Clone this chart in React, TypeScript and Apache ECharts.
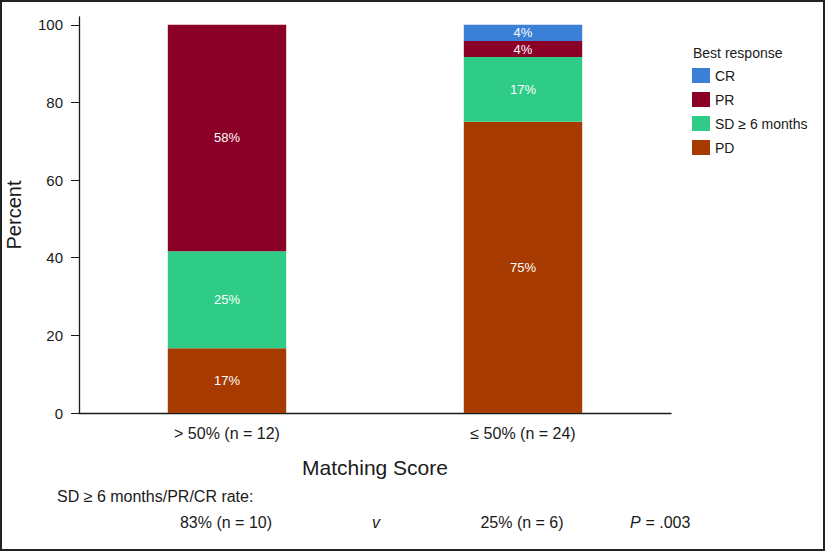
import React, { useEffect, useRef } from "react";
import * as echarts from "echarts";

const categories = ["> 50% (n = 12)", "≤ 50% (n = 24)"];
const pdValues = [16.67, 75.0];
const sdValues = [25.0, 16.67];
const prValues = [58.33, 4.17];
const crValues = [0, 4.16];
const yTicks = [0, 20, 40, 60, 80, 100];
const legendNames = ["CR", "PR", "SD ≥ 6 months", "PD"];
const rateLine = "SD ≥ 6 months/PR/CR rate:";
const rateLeft = "83% (n = 10)";
const rateRight = "25% (n = 6)";
const pValue = " = .003";

const FONT = "'Liberation Sans', Arial, sans-serif";
const COLORS: Record<string, string> = {
  CR: "#3a80d6",
  PR: "#8a0026",
  "SD ≥ 6 months": "#2ecc87",
  PD: "#a63a00",
};

export default function App() {
  const ref = useRef<HTMLDivElement>(null);
  useEffect(() => {
    if (!ref.current) return;
    const chart = echarts.init(ref.current, null, { renderer: "svg" });
    const mk = (name: string, data: number[]) => ({
      name,
      type: "bar",
      stack: "total",
      barWidth: "40%",
      data,
      itemStyle: { color: COLORS[name] },
      label: {
        show: true,
        position: "inside",
        color: "#ffffff",
        fontFamily: FONT,
        fontSize: 13,
        formatter: (p: any) => (p.value > 0 ? Math.round(p.value) + "%" : ""),
      },
    });
    chart.setOption({
      animation: false,
      backgroundColor: "#ffffff",
      grid: { left: 79, right: 154, top: 17, bottom: 138, outerBoundsMode: "none", containLabel: false },
      legend: {
        data: legendNames,
        orient: "vertical",
        left: 692,
        top: 68,
        padding: 0,
        itemWidth: 18,
        itemHeight: 15,
        itemGap: 9,
        icon: "rect",
        textStyle: { fontFamily: FONT, fontSize: 14, color: "#1a1a1a" },
        selectedMode: false,
      },
      xAxis: {
        type: "category",
        data: categories,
        axisLine: { lineStyle: { color: "#1a1a1a", width: 1.3 } },
        axisTick: { show: false },
        axisLabel: { fontFamily: FONT, fontSize: 16, color: "#1a1a1a", margin: 12 },
        name: "Matching Score",
        nameLocation: "middle",
        nameGap: 44,
        nameTextStyle: { fontFamily: FONT, fontSize: 21, color: "#1a1a1a" },
      },
      yAxis: {
        type: "value",
        min: 0,
        max: 102,
        splitLine: { show: false },
        axisLine: { show: true, lineStyle: { color: "#1a1a1a", width: 1.3 } },
        axisTick: { show: true, length: 8, customValues: yTicks, lineStyle: { color: "#1a1a1a" } },
        axisLabel: { fontFamily: FONT, fontSize: 15, color: "#1a1a1a", margin: 16, customValues: yTicks },
        name: "Percent",
        nameLocation: "middle",
        nameGap: 55,
        nameTextStyle: { fontFamily: FONT, fontSize: 20, color: "#1a1a1a" },
      },
      graphic: [
        {
          type: "rect",
          shape: { x: 1, y: 1, width: 823, height: 549 },
          style: { fill: "none", stroke: "#222", lineWidth: 2 },
          silent: true,
        },
        {
          type: "text",
          x: 693,
          y: 53,
          style: { text: "Best response", font: `14px ${FONT}`, fill: "#1a1a1a", verticalAlign: "middle" },
        },
        {
          type: "text",
          x: 57,
          y: 496,
          style: { text: rateLine, font: `16px ${FONT}`, fill: "#1a1a1a", verticalAlign: "middle" },
        },
        {
          type: "text",
          x: 226,
          y: 522,
          style: { text: rateLeft, font: `16px ${FONT}`, fill: "#1a1a1a", verticalAlign: "middle", align: "center" },
        },
        {
          type: "text",
          x: 376,
          y: 522,
          style: { text: "v", font: `italic 16px ${FONT}`, fill: "#1a1a1a", verticalAlign: "middle", align: "center" },
        },
        {
          type: "text",
          x: 522,
          y: 522,
          style: { text: rateRight, font: `16px ${FONT}`, fill: "#1a1a1a", verticalAlign: "middle", align: "center" },
        },
        {
          type: "text",
          x: 630,
          y: 522,
          style: { text: "P", font: `italic 16px ${FONT}`, fill: "#1a1a1a", verticalAlign: "middle" },
        },
        {
          type: "text",
          x: 641,
          y: 522,
          style: { text: pValue, font: `16px ${FONT}`, fill: "#1a1a1a", verticalAlign: "middle" },
        },
      ],
      series: [
        mk("PD", pdValues),
        mk("SD ≥ 6 months", sdValues),
        mk("PR", prValues),
        mk("CR", crValues),
      ],
    });
    return () => chart.dispose();
  }, []);
  return (
    <div
      ref={ref}
      style={{ position: "absolute", left: 0, top: 0, width: 825, height: 551 }}
    />
  );
}
